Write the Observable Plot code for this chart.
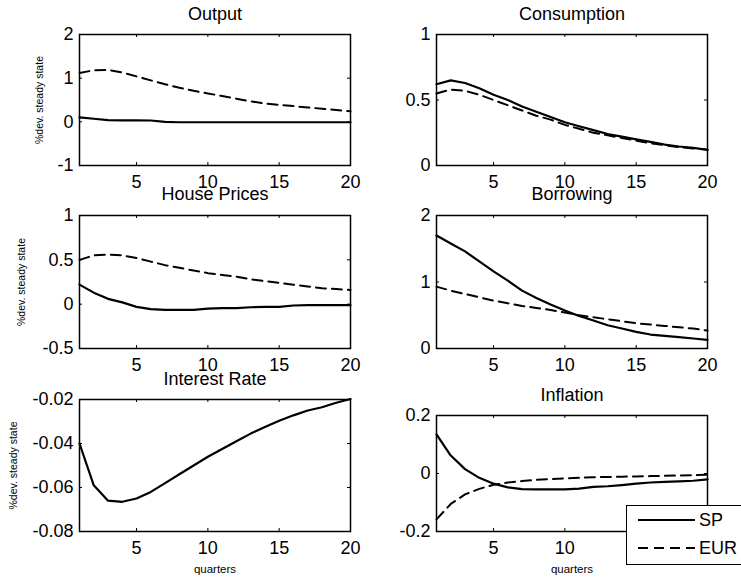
<!DOCTYPE html>
<html>
<head>
<meta charset="utf-8">
<script src="https://cdn.jsdelivr.net/npm/d3@7"></script>
<script src="https://cdn.jsdelivr.net/npm/@observablehq/plot@0.6"></script>
<style>
  html, body { margin: 0; padding: 0; background: white; overflow: hidden; }
  #chart { position: relative; width: 741px; height: 578px; overflow: hidden; background: white;
           font-family: "Liberation Sans", Arial, Helvetica, sans-serif; }
  #chart > svg { position: absolute; overflow: visible; }
  #legend { position: absolute; left: 626px; top: 505px; width: 150px; height: 58px;
            background: white; border: 1.5px solid black; }
</style>
</head>
<body>
<div id="chart"></div>
<script>
// ---- data ----
const quarters = [1,2,3,4,5,6,7,8,9,10,11,12,13,14,15,16,17,18,19,20];
const xTicks = [5,10,15,20];
const seriesNames = ["SP", "EUR"];
const titles = ["Output", "Consumption", "House Prices", "Borrowing", "Interest Rate", "Inflation"];
const yLabelText = "%dev. steady state";
const xLabelText = "quarters";

const outputSP  = [0.10,0.07,0.04,0.035,0.035,0.03,0.0,-0.01,-0.01,-0.01,-0.01,-0.01,-0.01,-0.01,-0.01,-0.01,-0.01,-0.01,-0.01,-0.01];
const outputEUR = [1.12,1.18,1.19,1.13,1.04,0.95,0.86,0.78,0.71,0.65,0.59,0.53,0.47,0.42,0.39,0.36,0.33,0.30,0.27,0.24];
const outputTicks = [-1,0,1,2];

const consSP  = [0.62,0.65,0.63,0.59,0.54,0.50,0.45,0.41,0.37,0.33,0.30,0.27,0.24,0.22,0.20,0.18,0.16,0.145,0.135,0.12];
const consEUR = [0.55,0.58,0.57,0.54,0.50,0.46,0.42,0.38,0.35,0.31,0.28,0.25,0.23,0.21,0.19,0.17,0.155,0.14,0.13,0.12];
const consTicks = [0,0.5,1];

const housSP  = [0.22,0.13,0.06,0.02,-0.03,-0.055,-0.065,-0.065,-0.065,-0.05,-0.045,-0.045,-0.035,-0.03,-0.03,-0.015,-0.01,-0.01,-0.01,-0.01];
const housEUR = [0.50,0.55,0.56,0.55,0.52,0.48,0.44,0.41,0.38,0.35,0.33,0.31,0.28,0.26,0.24,0.22,0.20,0.18,0.17,0.16];
const housTicks = [-0.5,0,0.5,1];

const borrSP  = [1.70,1.58,1.46,1.31,1.16,1.02,0.87,0.76,0.66,0.57,0.49,0.42,0.35,0.30,0.25,0.21,0.19,0.17,0.15,0.13];
const borrEUR = [0.93,0.87,0.82,0.77,0.72,0.68,0.64,0.61,0.58,0.54,0.50,0.47,0.44,0.41,0.38,0.36,0.34,0.32,0.30,0.27];
const borrTicks = [0,1,2];

const rateSP = [-0.040,-0.059,-0.066,-0.0665,-0.065,-0.062,-0.058,-0.054,-0.050,-0.046,-0.0425,-0.039,-0.0355,-0.0325,-0.0297,-0.0272,-0.025,-0.0235,-0.0215,-0.0198];
const rateTicks = [-0.08,-0.06,-0.04,-0.02];

const inflSP  = [0.135,0.062,0.015,-0.015,-0.035,-0.048,-0.054,-0.055,-0.055,-0.055,-0.052,-0.046,-0.044,-0.040,-0.035,-0.031,-0.029,-0.027,-0.025,-0.020];
const inflEUR = [-0.158,-0.105,-0.072,-0.053,-0.039,-0.031,-0.026,-0.022,-0.019,-0.017,-0.015,-0.013,-0.012,-0.011,-0.010,-0.009,-0.008,-0.007,-0.006,-0.004];
const inflTicks = [-0.2,0,0.2];

// ---- layout ----
const FONT = "'Liberation Sans', Arial, Helvetica, sans-serif";
const toRows = (arr) => quarters.map((q, i) => ({q, v: arr[i]}));

function panel(o) {
  const w = o.width - o.mL - o.mR;
  const h = o.height - o.mT - o.mB;
  const labelTicks = o.hideXTicks ? xTicks.filter(t => !o.hideXTicks.includes(t)) : xTicks;
  const marks = [
    Plot.tickX(xTicks, {x: d => d, insetTop: h - 3, stroke: "black", strokeWidth: 1}),
    Plot.tickX(xTicks, {x: d => d, insetBottom: h - 3, stroke: "black", strokeWidth: 1}),
    Plot.tickY(o.yTicks, {y: d => d, insetRight: w - 3, stroke: "black", strokeWidth: 1}),
    Plot.tickY(o.yTicks, {y: d => d, insetLeft: w - 3, stroke: "black", strokeWidth: 1}),
    Plot.axisX({ticks: labelTicks, tickSize: 0, tickPadding: 10, tickFormat: d => String(d), label: null, fontSize: 18}),
    Plot.axisY({ticks: o.yTicks, tickSize: 0, tickPadding: 6, tickFormat: d => String(d), label: null, fontSize: 18}),
  ];
  if (o.eur) marks.push(Plot.lineY(toRows(o.eur), {x: "q", y: "v", stroke: "black", strokeWidth: 2,
                                  strokeDasharray: "10,6", strokeLinejoin: "round"}));
  if (o.sp) marks.push(Plot.lineY(toRows(o.sp), {x: "q", y: "v", stroke: "black", strokeWidth: 2.2,
                                  strokeLinejoin: "round"}));
  marks.push(Plot.frame({stroke: "black", strokeWidth: 1.5}));
  marks.push(Plot.text([o.title], {frameAnchor: "top", dy: o.titleDy ?? -15, lineAnchor: "bottom", textAnchor: "middle",
                                   fontSize: 18, fill: "black"}));
  if (o.ylabelDx) marks.push(Plot.text([yLabelText], {frameAnchor: "left", dx: o.ylabelDx, rotate: -90,
                                   textAnchor: "middle", lineAnchor: "middle", fontSize: 10.5, fill: "black"}));
  if (o.xlabel) marks.push(Plot.text([xLabelText], {frameAnchor: "bottom", dy: 38, textAnchor: "middle",
                                   lineAnchor: "middle", fontSize: 11.5, fill: "black"}));
  const svg = Plot.plot({
    width: o.width, height: o.height,
    marginLeft: o.mL, marginRight: o.mR, marginTop: o.mT, marginBottom: o.mB,
    x: {domain: [1, 20], label: null},
    y: {domain: o.yDomain, label: null},
    style: {fontFamily: FONT, fontSize: "18px", background: "transparent", color: "black", overflow: "visible"},
    marks
  });
  svg.style.left = o.left + "px";
  svg.style.top = o.top + "px";
  document.getElementById("chart").appendChild(svg);
}

const L = {left: 0, width: 370, mL: 79, mR: 20};
const R = {left: 370, width: 371, mL: 66, mR: 34};

panel({...L, top: 0, height: 192, mT: 34, mB: 27, title: titles[0], sp: outputSP, eur: outputEUR,
       yDomain: [-1, 2], yTicks: outputTicks, ylabelDx: -40});
panel({...R, top: 0, height: 192, mT: 34, mB: 27, title: titles[1], sp: consSP, eur: consEUR,
       yDomain: [0, 1], yTicks: consTicks});
panel({...L, top: 170, height: 200, mT: 45, mB: 22, title: titles[2], sp: housSP, eur: housEUR,
       yDomain: [-0.5, 1], yTicks: housTicks, ylabelDx: -58, titleDy: -16});
panel({...R, top: 170, height: 200, mT: 45, mB: 22, title: titles[3], sp: borrSP, eur: borrEUR,
       yDomain: [0, 2], yTicks: borrTicks, titleDy: -16});
panel({...L, top: 370, height: 208, mT: 29, mB: 47, title: titles[4], sp: rateSP,
       yDomain: [-0.08, -0.02], yTicks: rateTicks, ylabelDx: -66, xlabel: true});
panel({...R, top: 370, height: 208, mT: 45, mB: 47, title: titles[5], sp: inflSP, eur: inflEUR,
       yDomain: [-0.2, 0.2], yTicks: inflTicks, xlabel: true, hideXTicks: [15, 20]});

// ---- legend ----
const legend = document.createElement("div");
legend.id = "legend";
const NS = "http://www.w3.org/2000/svg";
const lsvg = document.createElementNS(NS, "svg");
lsvg.setAttribute("width", "150"); lsvg.setAttribute("height", "58");
lsvg.style.display = "block";
seriesNames.forEach((name, i) => {
  const yy = 14 + i * 28;
  const ln = document.createElementNS(NS, "line");
  ln.setAttribute("x1", 11); ln.setAttribute("x2", 68);
  ln.setAttribute("y1", yy); ln.setAttribute("y2", yy);
  ln.setAttribute("stroke", "black");
  ln.setAttribute("stroke-width", i === 0 ? 2.2 : 2);
  if (i === 1) ln.setAttribute("stroke-dasharray", "10,6");
  lsvg.appendChild(ln);
  const tx = document.createElementNS(NS, "text");
  tx.setAttribute("x", 72); tx.setAttribute("y", yy);
  tx.setAttribute("dy", "0.35em");
  tx.setAttribute("font-size", 18);
  tx.setAttribute("font-family", FONT);
  tx.textContent = name;
  lsvg.appendChild(tx);
});
legend.appendChild(lsvg);
document.getElementById("chart").appendChild(legend);
</script>
</body>
</html>
